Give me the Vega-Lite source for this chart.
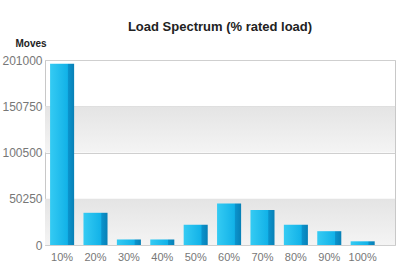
{
  "$schema": "https://vega.github.io/schema/vega-lite/v6.json",
  "autosize": {"type": "none"},
  "padding": {"left": 45, "top": 60, "right": 7, "bottom": 21},
  "width": 350,
  "height": 185,
  "background": "white",
  "title": {"text": "Load Spectrum (% rated load)", "font": "Liberation Sans", "fontSize": 13, "fontWeight": "bold", "color": "#222", "anchor": "middle", "offset": 4},
  "config": {"view": {"stroke": "#c8c8c8"}, "font": "Liberation Sans"},
  "datasets": {
    "bars": [
      {"load": "10%", "moves": 197000},
      {"load": "20%", "moves": 35000},
      {"load": "30%", "moves": 6000},
      {"load": "40%", "moves": 6000},
      {"load": "50%", "moves": 22000},
      {"load": "60%", "moves": 45000},
      {"load": "70%", "moves": 38000},
      {"load": "80%", "moves": 22000},
      {"load": "90%", "moves": 15000},
      {"load": "100%", "moves": 4000}
    ],
    "bands": [
      {"lo": 0, "hi": 50250},
      {"lo": 100500, "hi": 150750}
    ]
  },
  "layer": [
    {
      "data": {"name": "bands"},
      "mark": {"type": "rect", "color": {"gradient": "linear", "x1": 0, "y1": 0, "x2": 0, "y2": 1, "stops": [{"offset": 0, "color": "#e4e4e4"}, {"offset": 1, "color": "#f4f4f4"}]}},
      "encoding": {
        "y": {"field": "lo", "type": "quantitative", "scale": {"domain": [0, 201000]}},
        "y2": {"field": "hi"}
      }
    },
    {
      "data": {"name": "bars"},
      "mark": {"type": "bar", "color": {"gradient": "linear", "x1": 0, "y1": 0, "x2": 1, "y2": 0, "stops": [{"offset": 0, "color": "#35cbf3"}, {"offset": 0.72, "color": "#12b2e8"}, {"offset": 0.76, "color": "#0b93cc"}, {"offset": 1, "color": "#0880b6"}]}},
      "encoding": {
        "x": {"field": "load", "type": "nominal", "sort": null,
              "scale": {"paddingInner": 0.28, "paddingOuter": 0.38, "align": 0.2},
              "axis": {"title": null, "labelAngle": 0, "ticks": false, "domain": false, "labelColor": "#777", "labelFontSize": 11, "labelPadding": 6}},
        "y": {"field": "moves", "type": "quantitative",
              "scale": {"domain": [0, 201000], "nice": false},
              "axis": {"values": [0, 50250, 100500, 150750, 201000], "format": "d", "ticks": false, "domain": false,
                       "gridColor": "#cfcfcf", "labelColor": "#777", "labelFontSize": 12, "labelPadding": 3,
                       "title": "Moves", "titleAngle": 0, "titleAlign": "left", "titleBaseline": "bottom", "titleX": -30, "titleY": -12,
                       "titleFontSize": 10, "titleFontWeight": "bold", "titleColor": "#222"}}
      }
    }
  ]
}
